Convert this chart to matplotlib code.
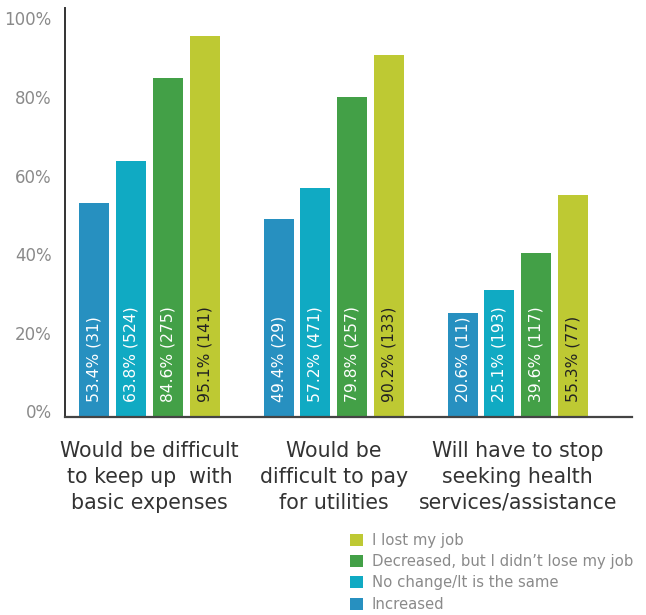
import matplotlib
matplotlib.use("Agg")
import matplotlib.pyplot as plt
import matplotlib.transforms as mtransforms
from matplotlib.patches import Patch
import numpy as np

# Datos
categorias = ["Would be difficult\nto keep up  with\nbasic expenses",
              "Would be\ndifficult to pay\nfor utilities",
              "Will have to stop\nseeking health\nservices/assistance"]
series = ["Increased", "No change/It is the same",
          "Decreased, but I didn\u2019t lose my job", "I lost my job"]

# porcentajes impresos en las barras
increased = [53.4, 49.4, 20.6]
no_change = [63.8, 57.2, 25.1]
decreased = [84.6, 79.8, 39.6]
lost_job = [95.1, 90.2, 55.3]
n_increased = [31, 29, 11]
n_no_change = [524, 471, 193]
n_decreased = [275, 257, 117]
n_lost_job = [141, 133, 77]

# alturas tal como aparecen dibujadas (el tercer grupo no coincide con la etiqueta)
h_increased = [53.4, 49.4, 26.0]
h_no_change = [63.8, 57.2, 31.7]
h_decreased = [84.6, 79.8, 40.9]
h_lost_job = [95.1, 90.2, 55.3]

colores = ["#2790c0", "#10aac3", "#43a047", "#bec933"]
color_texto = ["white", "white", "white", "#222222"]

valores = [increased, no_change, decreased, lost_job]
alturas = [h_increased, h_no_change, h_decreased, h_lost_job]
conteos = [n_increased, n_no_change, n_decreased, n_lost_job]

fig = plt.figure(figsize=(6.46, 6.15), dpi=100)
ax = fig.add_axes([65 / 646, 1 - 417 / 615, (632 - 65) / 646, (417 - 8) / 615])

x = np.arange(len(categorias))
ancho = 0.163
paso = 0.2
for i, (vals, hs, ns) in enumerate(zip(valores, alturas, conteos)):
    pos = x + (i - 1.5) * paso
    ax.bar(pos, hs, width=ancho, color=colores[i], zorder=2)
    for p, v, n in zip(pos, vals, ns):
        ax.text(p, 3.8, f"{v}% ({n})", rotation=90, ha="center", va="bottom",
                color=color_texto[i], fontsize=11.2)

ax.set_xlim(-0.46, 2.62)
ax.set_ylim(0, 102)
ax.set_yticks([0, 20, 40, 60, 80, 100])
ax.set_yticklabels(["0%", "20%", "40%", "60%", "80%", "100%"])
ax.tick_params(axis="y", length=0, pad=9.5, labelsize=12, labelcolor="#8a8a8a")
ax.set_xticks(x)
ax.set_xticklabels(categorias, linespacing=1.38)
ax.tick_params(axis="x", length=0, pad=17, labelsize=14.8, labelcolor="#333333")

# las etiquetas del eje y están algo desplazadas en el original
desp_px = [6, 4, 2.5, 0.5, -1, -2]
for lab, d in zip(ax.get_yticklabels(), desp_px):
    desp = mtransforms.ScaledTranslation(0, d / 100, fig.dpi_scale_trans)
    lab.set_transform(lab.get_transform() + desp)

for lado in ["top", "right"]:
    ax.spines[lado].set_visible(False)
ax.spines["left"].set_color("#333333")
ax.spines["bottom"].set_color("#444444")
ax.spines["left"].set_linewidth(1.4)
ax.spines["bottom"].set_linewidth(1.6)

handles = [Patch(facecolor=colores[i], label=series[i]) for i in [3, 2, 1, 0]]
fig.legend(handles=handles, loc="upper left", bbox_to_anchor=(350 / 646, 1 - 533 / 615),
           frameon=False, fontsize=10.7, labelcolor="#8a8a8a", handlelength=0.85,
           handleheight=0.85, handletextpad=0.6, labelspacing=0.42, borderpad=0,
           borderaxespad=0)

fig.savefig("out.png", dpi=100)
